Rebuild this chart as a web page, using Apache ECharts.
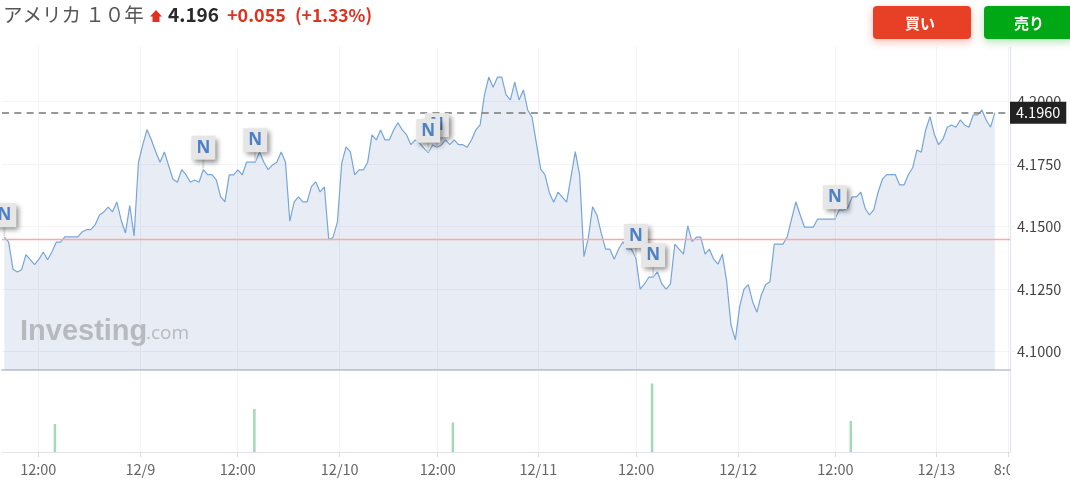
<!DOCTYPE html>
<html>
<head>
<meta charset="utf-8">
<style>html,body{margin:0;padding:0;background:#fff}#c{width:1070px;height:485px}</style>
<script src="https://cdn.jsdelivr.net/npm/echarts@6/dist/echarts.min.js"></script>
</head>
<body>
<div id="c"></div>
<script>
const prices = [
4.1458,4.1438,4.1330,4.1319,4.1328,4.1388,4.1368,4.1348,4.1370,4.1399,
4.1368,4.1399,4.1438,4.1438,4.1459,4.1459,4.1459,4.1459,4.1479,4.1488,
4.1488,4.1508,4.1547,4.1559,4.1578,4.1559,4.1599,4.1527,4.1475,4.1584,
4.1463,4.1757,4.1827,4.1888,4.1847,4.1800,4.1758,4.1799,4.1744,4.1690,
4.1678,4.1728,4.1708,4.1678,4.1687,4.1678,4.1728,4.1708,4.1708,4.1687,
4.1620,4.1599,4.1707,4.1707,4.1727,4.1707,4.1758,4.1758,4.1758,4.1799,
4.1758,4.1728,4.1747,4.1758,4.1799,4.1758,4.1522,4.1599,4.1619,4.1599,
4.1599,4.1660,4.1679,4.1639,4.1659,4.1448,4.1458,4.1518,4.1754,4.1819,
4.1799,4.1707,4.1727,4.1727,4.1758,4.1867,4.1847,4.1887,4.1847,4.1847,
4.1887,4.1916,4.1887,4.1867,4.1828,4.1847,4.1834,4.1814,4.1796,4.1827,
4.1818,4.1827,4.1847,4.1828,4.1847,4.1828,4.1828,4.1818,4.1847,4.1887,
4.1907,4.2027,4.2098,4.2058,4.2098,4.2098,4.2027,4.2007,4.2078,4.2007,
4.2047,4.1967,4.1938,4.1834,4.1730,4.1707,4.1636,4.1598,4.1638,4.1618,
4.1598,4.1698,4.1800,4.1707,4.1380,4.1454,4.1580,4.1547,4.1474,4.1410,
4.1410,4.1370,4.1410,4.1440,4.1410,4.1410,4.1375,4.1250,4.1271,4.1298,
4.1298,4.1319,4.1271,4.1250,4.1271,4.1430,4.1410,4.1390,4.1503,4.1440,
4.1458,4.1458,4.1390,4.1410,4.1370,4.1350,4.1390,4.1280,4.1107,4.1047,
4.1180,4.1250,4.1268,4.1200,4.1158,4.1227,4.1268,4.1280,4.1430,4.1430,
4.1430,4.1460,4.1530,4.1599,4.1547,4.1498,4.1498,4.1498,4.1530,4.1530,
4.1530,4.1530,4.1530,4.1567,4.1567,4.1575,4.1619,4.1619,4.1638,4.1574,
4.1547,4.1567,4.1638,4.1690,4.1708,4.1708,4.1708,4.1667,4.1667,4.1708,
4.1736,4.1807,4.1798,4.1887,4.1940,4.1870,4.1828,4.1850,4.1898,4.1907,
4.1898,4.1927,4.1907,4.1898,4.1947,4.1947,4.1967,4.1927,4.1898,4.1956
];
const previousClose = 4.145;
const currentPriceLabel = '4.1960';
const priceTicks = [4.1, 4.125, 4.15, 4.175, 4.2];
const timePositions = [7.85, 31.44, 53.96, 77.54, 100.2, 123.46, 146.05, 169.64, 192.14, 215.5, 232];
const timeLabels = ['12:00','12/9','12:00','12/10','12:00','12/11','12:00','12/12','12:00','12/13','8:00'];
const volumeIndex = [11.7, 57.8, 103.7, 149.75, 195.7];
const volumeValues = [28, 43, 29.5, 68.5, 31];
const newsIndex = [0, 46, 58, 100, 98, 146, 150, 192];

const FONT = '"Noto Sans CJK JP","Noto Sans",sans-serif';
const linePts = prices.map((v, i) => [i, v]);
const lineLast = prices[prices.length - 1];
const xMin = -0.54, xMax = 232.5;

const vGrid = { show: true, lineStyle: { color: '#f1f3f7', width: 1 } };
const chart = echarts.init(document.getElementById('c'), null, { renderer: 'canvas' });
chart.setOption({
  animation: false,
  backgroundColor: '#fff',
  textStyle: { fontFamily: FONT },
  grid: [
    { left: 2, right: 60, top: 47, height: 323 },
    { left: 2, right: 60, top: 370, height: 82 }
  ],
  xAxis: [
    { type: 'value', gridIndex: 0, min: xMin, max: xMax, scale: true,
      axisLine: { onZero: false, lineStyle: { color: '#cdd0d4', width: 2 } },
      axisTick: { show: false, customValues: timePositions },
      axisLabel: { show: false, customValues: timePositions },
      splitLine: vGrid },
    { type: 'value', gridIndex: 1, min: xMin, max: xMax, scale: true,
      axisLine: { onZero: false, lineStyle: { color: '#e1e4ea', width: 1 } },
      axisTick: { show: true, length: 5, customValues: timePositions, lineStyle: { color: '#d8dce3' } },
      axisLabel: { show: true, margin: 10, color: '#666', fontSize: 14.5, fontFamily: FONT,
        customValues: timePositions,
        formatter: v => timeLabels[timePositions.indexOf(v)] },
      splitLine: vGrid }
  ],
  yAxis: [
    { type: 'value', gridIndex: 0, position: 'right', min: 4.09268, max: 4.22188, scale: true,
      axisLine: { show: true, onZero: false, lineStyle: { color: '#e1e4ea' } },
      axisTick: { show: true, length: 4, customValues: priceTicks, lineStyle: { color: '#eef0f4' } },
      axisLabel: { show: true, margin: 7, color: '#444', fontSize: 14.5, fontFamily: FONT,
        customValues: priceTicks, formatter: v => v.toFixed(4) },
      splitLine: { show: true, lineStyle: { color: '#f2f4f7', width: 1 } } },
    { type: 'value', gridIndex: 1, position: 'right', min: 0, max: 82,
      axisLine: { show: true, onZero: false, lineStyle: { color: '#e1e4ea' } },
      axisTick: { show: false }, axisLabel: { show: false }, splitLine: { show: false } }
  ],
  series: [
    { type: 'line', xAxisIndex: 0, yAxisIndex: 0, data: linePts, symbol: 'none', smooth: false,
      lineStyle: { color: '#76a5d8', width: 1.2 },
      areaStyle: { color: 'rgba(63,105,172,0.12)', opacity: 1, origin: 'start' },
      z: 3,
      markLine: {
        silent: true, symbol: 'none', animation: false, precision: 4, z: 5,
        data: [
          { yAxis: previousClose, lineStyle: { color: '#f6aca4', width: 1.3, type: 'solid', opacity: 1 }, label: { show: false } },
          { yAxis: lineLast, lineStyle: { color: '#777', width: 1.5, type: [7, 5.3] },
            label: { show: true, position: 'end', distance: 0, formatter: currentPriceLabel,
              backgroundColor: '#222', color: '#fff', fontSize: 14.5, fontFamily: FONT, padding: [3, 6, 3, 6], lineHeight: 16 } }
        ]
      } },
    { type: 'bar', xAxisIndex: 1, yAxisIndex: 1, barWidth: 2.5,
      data: volumeIndex.map((x, i) => [x, volumeValues[i]]),
      itemStyle: { color: '#a5d9b6' }, z: 3 },
    { type: 'custom', xAxisIndex: 0, yAxisIndex: 0, z: 20, clip: false,
      data: newsIndex.map(i => [i, prices[i]]),
      renderItem: (params, api) => {
        const p = api.coord([api.value(0), api.value(1)]);
        const bx = p[0] - 12, by = p[1] - 34;
        return { type: 'group', children: [
          { type: 'rect', shape: { x: p[0] - 1, y: p[1] - 11, width: 2, height: 10 }, style: { fill: '#e0e0e0' } },
          { type: 'rect', shape: { x: bx, y: by, width: 24, height: 24 },
            style: { fill: '#e6e6e6', shadowBlur: 5, shadowOffsetX: 3, shadowOffsetY: 3, shadowColor: 'rgba(0,0,0,0.45)' } },
          { type: 'text', style: { x: p[0], y: by + 12, text: 'N', fill: '#4c80c9', font: 'bold 17px "Noto Sans","Open Sans",sans-serif', align: 'center', verticalAlign: 'middle' } }
        ] };
      } }
  ],
  graphic: [
    { type: 'text', z: 50, style: { x: 3, y: 15, text: 'アメリカ １０年', fill: '#555', font: '19.5px ' + FONT, verticalAlign: 'middle' } },
    { type: 'polygon', z: 50, shape: { points: [[156,10],[162,16.5],[159.5,16.5],[159.5,22],[152.5,22],[152.5,16.5],[150,16.5]] }, style: { fill: '#e0301e' } },
    { type: 'text', z: 50, style: { x: 168, y: 15, text: '4.196', fill: '#2a2a2a', font: 'bold 19px ' + FONT, verticalAlign: 'middle' } },
    { type: 'text', z: 50, style: { x: 227, y: 15, text: '+0.055', fill: '#e0301e', font: 'bold 18px ' + FONT, verticalAlign: 'middle' } },
    { type: 'text', z: 50, style: { x: 295, y: 15, text: '(+1.33%)', fill: '#e0301e', font: 'bold 17.5px ' + FONT, verticalAlign: 'middle' } },
    { type: 'rect', z: 50, shape: { x: 873, y: 6, width: 98, height: 33, r: 4 }, style: { fill: '#e84026', shadowBlur: 8, shadowOffsetY: 3, shadowColor: 'rgba(232,64,38,0.35)' } },
    { type: 'text', z: 51, style: { x: 920, y: 23, text: '買い', fill: '#fff', font: 'bold 15px ' + FONT, align: 'center', verticalAlign: 'middle' } },
    { type: 'rect', z: 50, shape: { x: 984, y: 6, width: 90, height: 33, r: 4 }, style: { fill: '#00a816', shadowBlur: 8, shadowOffsetY: 3, shadowColor: 'rgba(0,168,22,0.3)' } },
    { type: 'text', z: 51, style: { x: 1029, y: 23, text: '売り', fill: '#fff', font: 'bold 15px ' + FONT, align: 'center', verticalAlign: 'middle' } },
    { type: 'text', z: 15, style: { x: 20, y: 332, text: 'Investing', fill: '#b6b9bd', font: 'bold 29px "Liberation Sans",sans-serif', verticalAlign: 'middle' } },
    { type: 'text', z: 15, style: { x: 146, y: 334, text: '.com', fill: '#b6b9bd', font: '19px "Open Sans",sans-serif', verticalAlign: 'middle' } },
    { type: 'rect', z: 60, shape: { x: 1010, y: 456, width: 60, height: 29 }, style: { fill: '#fff' } }
  ]
});
</script>
</body>
</html>
